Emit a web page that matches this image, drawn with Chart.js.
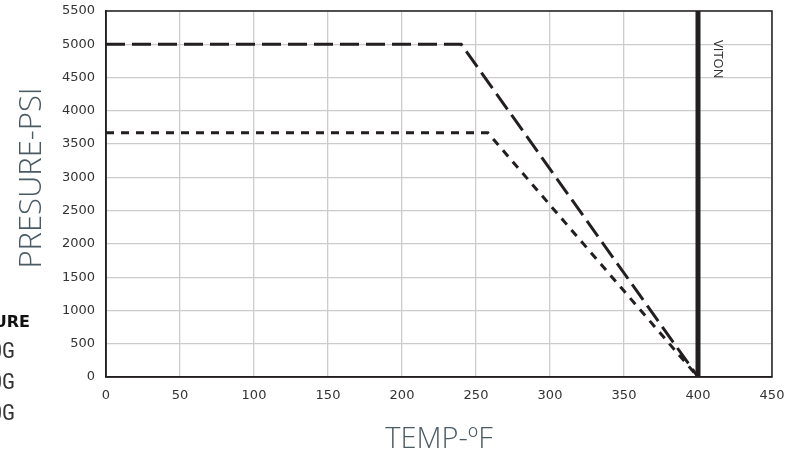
<!DOCTYPE html>
<html>
<head>
<meta charset="utf-8">
<script src="https://cdn.jsdelivr.net/npm/chart.js@4/dist/chart.umd.min.js"></script>
<style>
  html, body { margin: 0; padding: 0; background: #fff; }
  #wrap { position: relative; width: 796px; height: 459px; }
</style>
</head>
<body>
<div id="wrap"><canvas id="chart"></canvas></div>
<script>
// pressure rating curves (temp in F, pressure in psi)
const tempHigh = [0, 240, 400];
const pressHigh = [5000, 5000, 0];
const tempLow = [0, 258, 400];
const pressLow = [3670, 3670, 0];
const vitonTemp = [400, 400];
const vitonPress = [0, 5500];

const xTicks = [0, 50, 100, 150, 200, 250, 300, 350, 400, 450];
const yTicks = [0, 500, 1000, 1500, 2000, 2500, 3000, 3500, 4000, 4500, 5000, 5500];

const toPoints = (xs, ys) => xs.map((x, i) => ({ x: x, y: ys[i] }));

const ink = "#231f20";
const slate = "#4b5b65";

// box border, labels and the cut-off legend on the left
const extras = {
  id: "extras",
  afterDraw(chart) {
    const ctx = chart.ctx;
    const a = chart.chartArea;
    ctx.save();
    ctx.strokeStyle = ink;
    ctx.lineWidth = 1.5;
    ctx.strokeRect(a.left, a.top, a.right - a.left, a.bottom - a.top);

    // y title
    ctx.fillStyle = slate;
    ctx.font = '300 31px "Open Sans", sans-serif';
    ctx.textAlign = "center";
    ctx.textBaseline = "middle";
    ctx.save();
    ctx.translate(32, 178);
    ctx.rotate(-Math.PI / 2);
    ctx.fillText("PRESURE-PSI", 0, 0);
    ctx.restore();

    // VITON label
    const xs = chart.scales.x;
    ctx.save();
    ctx.fillStyle = "#333";
    ctx.font = '13px "Open Sans", sans-serif';
    ctx.textAlign = "left";
    ctx.textBaseline = "middle";
    ctx.translate(xs.getPixelForValue(400) + 20, 40);
    ctx.rotate(Math.PI / 2);
    ctx.fillText("VITON", 0, 0);
    ctx.restore();

    // legend fragments cut by the picture edge
    ctx.textAlign = "right";
    ctx.textBaseline = "middle";
    ctx.fillStyle = "#111";
    ctx.font = '900 16px "DejaVu Sans", sans-serif';
    ctx.fillText("URE", 30, 323);
    ctx.fillStyle = "#333";
    ctx.font = '22px "Liberation Sans Narrow", "Roboto Condensed", "DejaVu Sans Condensed", sans-serif';
    ctx.fillText("0G", 15, 352);
    ctx.fillText("0G", 15, 383);
    ctx.fillText("0G", 15, 414);
    ctx.restore();
  }
};

new Chart(document.getElementById("chart"), {
  type: "scatter",
  data: {
    datasets: [
      {
        label: "high",
        data: toPoints(tempHigh, pressHigh),
        showLine: true,
        borderColor: ink,
        borderWidth: 3,
        borderDash: [19, 7],
        pointRadius: 0,
        fill: false
      },
      {
        label: "low",
        data: toPoints(tempLow, pressLow),
        showLine: true,
        borderColor: ink,
        borderWidth: 3,
        borderDash: [8, 7],
        pointRadius: 0,
        fill: false
      },
      {
        label: "VITON",
        data: toPoints(vitonTemp, vitonPress),
        showLine: true,
        borderColor: ink,
        borderWidth: 5,
        pointRadius: 0,
        fill: false
      }
    ]
  },
  options: {
    responsive: true,
    maintainAspectRatio: false,
    animation: false,
    layout: { padding: { top: 11, right: 24, left: 0, bottom: 0 } },
    plugins: {
      legend: { display: false },
      tooltip: { enabled: false }
    },
    scales: {
      x: {
        type: "linear",
        min: 0,
        max: 450,
        afterBuildTicks: (s) => { s.ticks = xTicks.map(v => ({ value: v })); },
        afterFit: (s) => { s.height = 82; s.paddingLeft = 0; s.paddingRight = 0; },
        grid: { color: "#cccccc", lineWidth: 1.3, drawTicks: false },
        border: { color: ink, width: 1.5 },
        ticks: {
          color: "#333",
          padding: 11,
          maxRotation: 0,
          callback: (v) => String(v),
          font: { family: "DejaVu Sans", size: 13 }
        },
        title: {
          display: true,
          text: "TEMP-ºF",
          color: slate,
          padding: { top: 0, bottom: 2 },
          font: { family: "Open Sans", size: 29, weight: "300" }
        }
      },
      y: {
        type: "linear",
        min: 0,
        max: 5500,
        afterBuildTicks: (s) => { s.ticks = yTicks.map(v => ({ value: v })); },
        afterFit: (s) => { s.width = 106; s.paddingTop = 0; s.paddingBottom = 0; },
        grid: { color: "#cccccc", lineWidth: 1.3, drawTicks: false },
        border: { color: ink, width: 1.5 },
        ticks: {
          color: "#333",
          padding: 11,
          callback: (v) => String(v),
          font: { family: "DejaVu Sans", size: 13 }
        }
      }
    }
  },
  plugins: [extras]
});
</script>
</body>
</html>
